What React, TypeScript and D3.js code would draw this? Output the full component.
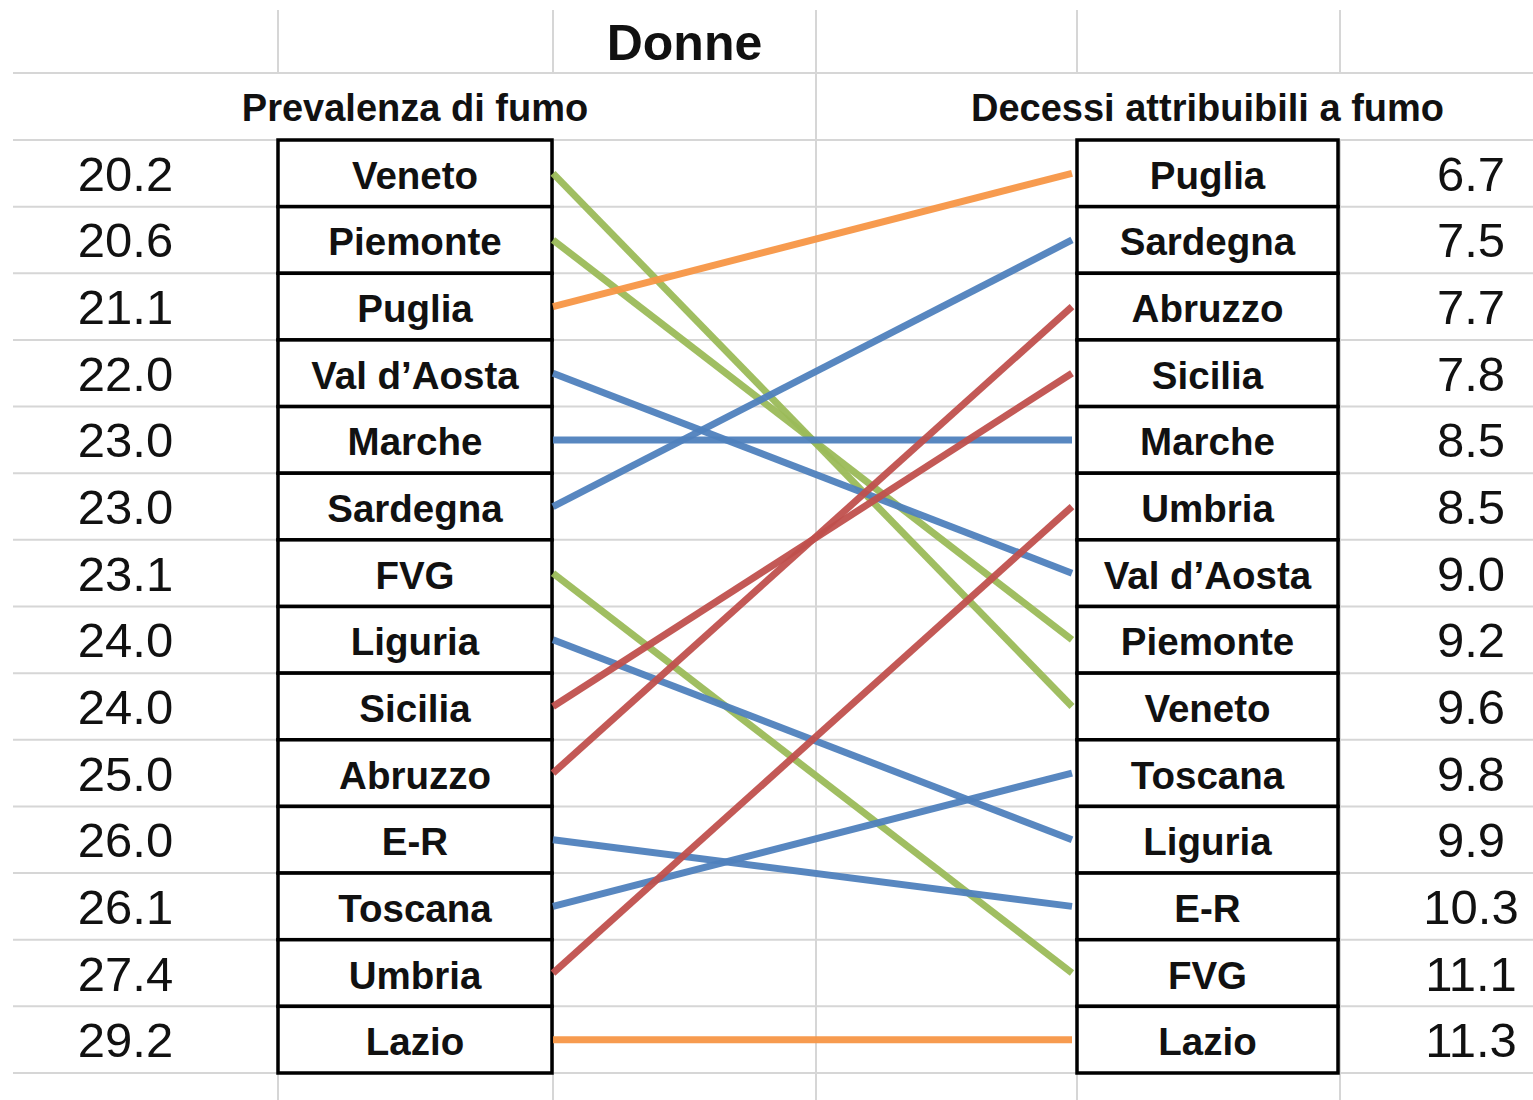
import React from "react";
import * as d3 from "d3";

const title = "Donne";
const leftTitle = "Prevalenza di fumo";
const rightTitle = "Decessi attribuibili a fumo";

const leftRegions = ["Veneto", "Piemonte", "Puglia", "Val d’Aosta", "Marche", "Sardegna", "FVG", "Liguria", "Sicilia", "Abruzzo", "E-R", "Toscana", "Umbria", "Lazio"];
const leftValues = [20.2, 20.6, 21.1, 22.0, 23.0, 23.0, 23.1, 24.0, 24.0, 25.0, 26.0, 26.1, 27.4, 29.2];

const rightRegions = ["Puglia", "Sardegna", "Abruzzo", "Sicilia", "Marche", "Umbria", "Val d’Aosta", "Piemonte", "Veneto", "Toscana", "Liguria", "E-R", "FVG", "Lazio"];
const rightValues = [6.7, 7.5, 7.7, 7.8, 8.5, 8.5, 9.0, 9.2, 9.6, 9.8, 9.9, 10.3, 11.1, 11.3];

const greenRegions = ["Veneto", "Piemonte", "FVG"];
const blueRegions = ["Val d’Aosta", "Marche", "Sardegna", "Liguria", "E-R", "Toscana"];
const redRegions = ["Sicilia", "Abruzzo", "Umbria"];
const orangeRegions = ["Puglia", "Lazio"];

const W = 1533;
const H = 1100;
const FONT = "'Liberation Sans', Arial, sans-serif";

export default function App() {
  const n = leftRegions.length;
  const y = d3.scaleBand<number>().domain(d3.range(n)).range([140, 1073]).padding(0);
  const bw = y.bandwidth();
  const cy = (i: number) => (y(i) as number) + bw / 2;

  const colorOf = (r: string) =>
    greenRegions.includes(r) ? "#9BBB59" :
    blueRegions.includes(r) ? "#4F81BD" :
    redRegions.includes(r) ? "#C0504D" :
    orangeRegions.includes(r) ? "#F79646" : "#888";

  const colX = [278, 553, 816, 1077, 1340];
  const leftBox = { x0: 278, x1: 552 };
  const rightBox = { x0: 1077, x1: 1338 };
  const lineX0 = 553;
  const lineX1 = 1072;

  const hLines = [73, ...d3.range(n + 1).map((i) => (i < n ? (y(i) as number) : 1073))];
  const grid = "#d6d6d6";

  const line = d3.line<[number, number]>();

  return (
    <svg width={W} height={H} style={{ position: "absolute", left: 0, top: 0, background: "#fff" }}>
      <rect x={0} y={0} width={W} height={H} fill="#fff" />
      {hLines.map((yy, k) => (
        <line key={"h" + k} x1={13} x2={W} y1={yy} y2={yy} stroke={grid} strokeWidth={2} />
      ))}
      {colX.map((x, k) => (
        <g key={"v" + k}>
          <line x1={x} x2={x} y1={10} y2={73} stroke={grid} strokeWidth={2} />
          {x === 816 && <line x1={x} x2={x} y1={73} y2={140} stroke={grid} strokeWidth={2} />}
          <line x1={x} x2={x} y1={140} y2={H} stroke={grid} strokeWidth={2} />
        </g>
      ))}

      <text x={684.5} y={60} textAnchor="middle" fontFamily={FONT} fontWeight="bold" fontSize={50} fill="#111">{title}</text>
      <text x={(leftBox.x0 + leftBox.x1) / 2} y={121} textAnchor="middle" fontFamily={FONT} fontWeight="bold" fontSize={38} fill="#111">{leftTitle}</text>
      <text x={(rightBox.x0 + rightBox.x1) / 2} y={121} textAnchor="middle" fontFamily={FONT} fontWeight="bold" fontSize={38} fill="#111">{rightTitle}</text>

      {leftRegions.map((r, i) => (
        <g key={"l" + i}>
          <rect x={leftBox.x0} y={y(i)} width={leftBox.x1 - leftBox.x0} height={bw} fill="#fff" stroke="#000" strokeWidth={3.5} />
          <text x={(leftBox.x0 + leftBox.x1) / 2} y={cy(i) + 15.5} textAnchor="middle" fontFamily={FONT} fontWeight="bold" fontSize={38.5} fill="#111">{r}</text>
          <text x={125.5} y={cy(i) + 17.5} textAnchor="middle" fontFamily={FONT} fontSize={49} fill="#111">{leftValues[i].toFixed(1)}</text>
        </g>
      ))}

      {rightRegions.map((r, i) => (
        <g key={"r" + i}>
          <rect x={rightBox.x0} y={y(i)} width={rightBox.x1 - rightBox.x0} height={bw} fill="#fff" stroke="#000" strokeWidth={3.5} />
          <text x={(rightBox.x0 + rightBox.x1) / 2} y={cy(i) + 15.5} textAnchor="middle" fontFamily={FONT} fontWeight="bold" fontSize={38.5} fill="#111">{r}</text>
          <text x={1471} y={cy(i) + 17.5} textAnchor="middle" fontFamily={FONT} fontSize={49} fill="#111">{rightValues[i].toFixed(1)}</text>
        </g>
      ))}

      {leftRegions.map((r, i) => {
        const j = rightRegions.indexOf(r);
        const d = line([[lineX0, cy(i)], [lineX1, cy(j)]]) || "";
        return (
          <path key={"s" + i} d={d} stroke={colorOf(r)} strokeWidth={7} fill="none" strokeLinecap="butt" opacity={0.95} />
        );
      })}
    </svg>
  );
}
